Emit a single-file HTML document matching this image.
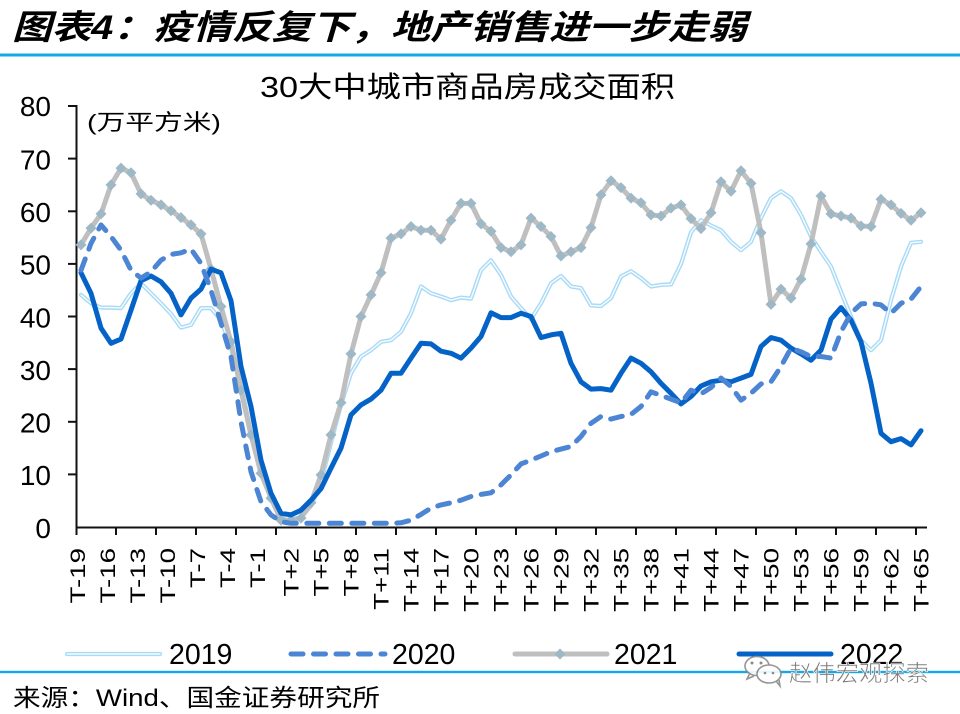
<!DOCTYPE html>
<html><head><meta charset="utf-8"><style>
html,body{margin:0;padding:0;background:#fff;}
svg{display:block;}
text{font-family:"Liberation Sans","Noto Sans CJK SC",sans-serif;}
</style></head><body>
<svg width="960" height="714" viewBox="0 0 960 714" xmlns="http://www.w3.org/2000/svg">
<defs><path id="dm" d="M0,-5.5 L5.5,0 L0,5.5 L-5.5,0Z" fill="#9fb8c5"/></defs>
<rect width="960" height="714" fill="#fff"/>
<!-- Title -->
<text x="12" y="39" font-size="34" font-weight="bold" font-style="italic" textLength="735" lengthAdjust="spacingAndGlyphs" fill="#000">图表4：疫情反复下，地产销售进一步走弱</text>
<rect x="0" y="53.5" width="960" height="3" fill="#13a8e6"/>
<!-- chart title -->
<text x="260" y="97" font-size="29" textLength="415" lengthAdjust="spacingAndGlyphs" fill="#000">30大中城市商品房成交面积</text>
<text x="87" y="130" font-size="22" textLength="134" lengthAdjust="spacingAndGlyphs" fill="#000">(万平方米)</text>
<!-- y axis labels -->
<g font-size="28" text-anchor="end" fill="#000">
<text x="51" y="116">80</text>
<text x="51" y="169.4">70</text>
<text x="51" y="222">60</text>
<text x="51" y="274.7">50</text>
<text x="51" y="327.3">40</text>
<text x="51" y="379.9">30</text>
<text x="51" y="432.5">20</text>
<text x="51" y="485.2">10</text>
<text x="51" y="537.8">0</text>
</g>
<!-- axes -->
<g stroke="#111" stroke-width="2">
<line x1="76.5" y1="105" x2="76.5" y2="528"/>
<line x1="75.5" y1="527.5" x2="927" y2="527.5"/>
<line x1="68" y1="106" x2="76" y2="106"/>
<line x1="68" y1="158.6" x2="76" y2="158.6"/>
<line x1="68" y1="211.3" x2="76" y2="211.3"/>
<line x1="68" y1="263.9" x2="76" y2="263.9"/>
<line x1="68" y1="316.5" x2="76" y2="316.5"/>
<line x1="68" y1="369.1" x2="76" y2="369.1"/>
<line x1="68" y1="421.8" x2="76" y2="421.8"/>
<line x1="68" y1="474.4" x2="76" y2="474.4"/>
<line x1="116" y1="527" x2="116" y2="535"/>
<line x1="156" y1="527" x2="156" y2="535"/>
<line x1="196" y1="527" x2="196" y2="535"/>
<line x1="236" y1="527" x2="236" y2="535"/>
<line x1="276" y1="527" x2="276" y2="535"/>
<line x1="316" y1="527" x2="316" y2="535"/>
<line x1="356" y1="527" x2="356" y2="535"/>
<line x1="396" y1="527" x2="396" y2="535"/>
<line x1="436" y1="527" x2="436" y2="535"/>
<line x1="476" y1="527" x2="476" y2="535"/>
<line x1="516" y1="527" x2="516" y2="535"/>
<line x1="556" y1="527" x2="556" y2="535"/>
<line x1="596" y1="527" x2="596" y2="535"/>
<line x1="636" y1="527" x2="636" y2="535"/>
<line x1="676" y1="527" x2="676" y2="535"/>
<line x1="716" y1="527" x2="716" y2="535"/>
<line x1="756" y1="527" x2="756" y2="535"/>
<line x1="796" y1="527" x2="796" y2="535"/>
<line x1="836" y1="527" x2="836" y2="535"/>
<line x1="876" y1="527" x2="876" y2="535"/>
<line x1="916" y1="527" x2="916" y2="535"/>
<line x1="76.5" y1="527" x2="76.5" y2="535"/>
</g>
<!-- x labels -->
<g font-size="21" text-anchor="end" fill="#000">
<text transform="translate(85,548) rotate(-90) scale(1.32,1)">T-19</text>
<text transform="translate(115,548) rotate(-90) scale(1.32,1)">T-16</text>
<text transform="translate(145,548) rotate(-90) scale(1.32,1)">T-13</text>
<text transform="translate(175,548) rotate(-90) scale(1.32,1)">T-10</text>
<text transform="translate(205,548) rotate(-90) scale(1.32,1)">T-7</text>
<text transform="translate(235,548) rotate(-90) scale(1.32,1)">T-4</text>
<text transform="translate(265,548) rotate(-90) scale(1.32,1)">T-1</text>
<text transform="translate(298.5,548) rotate(-90) scale(1.32,1)">T+2</text>
<text transform="translate(328.5,548) rotate(-90) scale(1.32,1)">T+5</text>
<text transform="translate(358.5,548) rotate(-90) scale(1.32,1)">T+8</text>
<text transform="translate(388.5,548) rotate(-90) scale(1.32,1)">T+11</text>
<text transform="translate(418.5,548) rotate(-90) scale(1.32,1)">T+14</text>
<text transform="translate(448.5,548) rotate(-90) scale(1.32,1)">T+17</text>
<text transform="translate(478.5,548) rotate(-90) scale(1.32,1)">T+20</text>
<text transform="translate(508.5,548) rotate(-90) scale(1.32,1)">T+23</text>
<text transform="translate(538.5,548) rotate(-90) scale(1.32,1)">T+26</text>
<text transform="translate(568.5,548) rotate(-90) scale(1.32,1)">T+29</text>
<text transform="translate(598.5,548) rotate(-90) scale(1.32,1)">T+32</text>
<text transform="translate(628.5,548) rotate(-90) scale(1.32,1)">T+35</text>
<text transform="translate(658.5,548) rotate(-90) scale(1.32,1)">T+38</text>
<text transform="translate(688.5,548) rotate(-90) scale(1.32,1)">T+41</text>
<text transform="translate(718.5,548) rotate(-90) scale(1.32,1)">T+44</text>
<text transform="translate(748.5,548) rotate(-90) scale(1.32,1)">T+47</text>
<text transform="translate(778.5,548) rotate(-90) scale(1.32,1)">T+50</text>
<text transform="translate(808.5,548) rotate(-90) scale(1.32,1)">T+53</text>
<text transform="translate(838.5,548) rotate(-90) scale(1.32,1)">T+56</text>
<text transform="translate(868.5,548) rotate(-90) scale(1.32,1)">T+59</text>
<text transform="translate(898.5,548) rotate(-90) scale(1.32,1)">T+62</text>
<text transform="translate(928.5,548) rotate(-90) scale(1.32,1)">T+65</text>
</g>
<!-- 2019 -->
<g fill="none" stroke-linejoin="round" stroke-linecap="round">
<polyline id="s19" stroke="#a9daf5" stroke-width="4.2" points="81,294.9 91,303.3 101,307.6 111,307.6 121,308.1 131,293.3 141,283.3 151,293.3 161,303.3 171,313.9 181,327.6 191,324.9 201,308.1 211,308.1 221,320.2 231,348.1 241,384.9 251,432.3 261,469.1 271,495.4 281,513.8 291,519.1 301,517.5 311,506 321,482.3 331,442.8 341,404.9 351,373.3 361,356.5 371,350.2 381,341.8 391,340.2 401,331.8 411,313.3 421,286.5 431,293.3 441,296.5 451,300.2 461,297.6 471,298.6 481,270.2 491,260.2 501,274.9 511,296.5 521,308.1 531,319.1 541,303.3 551,283.3 561,276 571,286.5 581,288.1 591,305.4 601,306 611,298.1 621,276.5 631,271.2 641,278.1 651,286.5 661,284.9 671,284.4 681,263.9 691,232.3 701,220.2 711,225.5 721,230.2 731,241.8 741,250.2 751,241.8 761,218.1 771,198.1 781,191.3 791,198.1 801,214.9 811,236.5 821,251.8 831,266.5 841,291.8 851,316.5 861,340.2 871,350.2 881,340.2 891,300.2 901,266.5 911,242.8 921,241.8"/>
<polyline stroke="#f6fcff" stroke-width="1.4" points="81,294.9 91,303.3 101,307.6 111,307.6 121,308.1 131,293.3 141,283.3 151,293.3 161,303.3 171,313.9 181,327.6 191,324.9 201,308.1 211,308.1 221,320.2 231,348.1 241,384.9 251,432.3 261,469.1 271,495.4 281,513.8 291,519.1 301,517.5 311,506 321,482.3 331,442.8 341,404.9 351,373.3 361,356.5 371,350.2 381,341.8 391,340.2 401,331.8 411,313.3 421,286.5 431,293.3 441,296.5 451,300.2 461,297.6 471,298.6 481,270.2 491,260.2 501,274.9 511,296.5 521,308.1 531,319.1 541,303.3 551,283.3 561,276 571,286.5 581,288.1 591,305.4 601,306 611,298.1 621,276.5 631,271.2 641,278.1 651,286.5 661,284.9 671,284.4 681,263.9 691,232.3 701,220.2 711,225.5 721,230.2 731,241.8 741,250.2 751,241.8 761,218.1 771,198.1 781,191.3 791,198.1 801,214.9 811,236.5 821,251.8 831,266.5 841,291.8 851,316.5 861,340.2 871,350.2 881,340.2 891,300.2 901,266.5 911,242.8 921,241.8"/>
<!-- 2021 -->
<polyline stroke="#bfbfbf" stroke-width="5" points="81,244.9 91,228.1 101,213.9 111,184.9 121,168.1 131,172.8 141,193.9 151,200.2 161,204.9 171,210.7 181,217.6 191,224.9 201,233.9 211,269.1 221,306.5 231,341.8 241,390.2 251,434.9 261,473.3 271,498.1 281,520.2 291,520.2 301,518.1 311,502.8 321,474.9 331,434.9 341,402.8 351,353.9 361,316.5 371,294.9 381,272.8 391,238.1 401,233.9 411,226.5 421,230.2 431,230.2 441,239.1 451,220.2 461,203.4 471,203.4 481,223.9 491,231.3 501,247.6 511,251.8 521,244.9 531,218.1 541,226.5 551,236.5 561,256 571,251.8 581,247.6 591,227.6 601,194.9 611,180.7 621,187.6 631,198.1 641,202.8 651,214.9 661,216 671,208.1 681,204.9 691,218.6 701,228.6 711,212.8 721,181.8 731,191.3 741,170.7 751,183.4 761,232.8 771,304.4 781,289.1 791,298.1 801,279.1 811,243.9 821,196 831,213.9 841,216 851,218.1 861,226 871,226.5 881,199.2 891,204.9 901,213.4 911,220.2 921,212.8"/>
</g>
<g>
<use href="#dm" x="81" y="244.9"/><use href="#dm" x="91" y="228.1"/><use href="#dm" x="101" y="213.9"/><use href="#dm" x="111" y="184.9"/><use href="#dm" x="121" y="168.1"/><use href="#dm" x="131" y="172.8"/><use href="#dm" x="141" y="193.9"/><use href="#dm" x="151" y="200.2"/><use href="#dm" x="161" y="204.9"/><use href="#dm" x="171" y="210.7"/><use href="#dm" x="181" y="217.6"/><use href="#dm" x="191" y="224.9"/><use href="#dm" x="201" y="233.9"/><use href="#dm" x="211" y="269.1"/><use href="#dm" x="221" y="306.5"/><use href="#dm" x="231" y="341.8"/><use href="#dm" x="241" y="390.2"/><use href="#dm" x="251" y="434.9"/><use href="#dm" x="261" y="473.3"/><use href="#dm" x="271" y="498.1"/><use href="#dm" x="281" y="520.2"/><use href="#dm" x="291" y="520.2"/><use href="#dm" x="301" y="518.1"/><use href="#dm" x="311" y="502.8"/><use href="#dm" x="321" y="474.9"/><use href="#dm" x="331" y="434.9"/><use href="#dm" x="341" y="402.8"/><use href="#dm" x="351" y="353.9"/><use href="#dm" x="361" y="316.5"/><use href="#dm" x="371" y="294.9"/><use href="#dm" x="381" y="272.8"/><use href="#dm" x="391" y="238.1"/><use href="#dm" x="401" y="233.9"/><use href="#dm" x="411" y="226.5"/><use href="#dm" x="421" y="230.2"/><use href="#dm" x="431" y="230.2"/><use href="#dm" x="441" y="239.1"/><use href="#dm" x="451" y="220.2"/><use href="#dm" x="461" y="203.4"/><use href="#dm" x="471" y="203.4"/><use href="#dm" x="481" y="223.9"/><use href="#dm" x="491" y="231.3"/><use href="#dm" x="501" y="247.6"/><use href="#dm" x="511" y="251.8"/><use href="#dm" x="521" y="244.9"/><use href="#dm" x="531" y="218.1"/><use href="#dm" x="541" y="226.5"/><use href="#dm" x="551" y="236.5"/><use href="#dm" x="561" y="256"/><use href="#dm" x="571" y="251.8"/><use href="#dm" x="581" y="247.6"/><use href="#dm" x="591" y="227.6"/><use href="#dm" x="601" y="194.9"/><use href="#dm" x="611" y="180.7"/><use href="#dm" x="621" y="187.6"/><use href="#dm" x="631" y="198.1"/><use href="#dm" x="641" y="202.8"/><use href="#dm" x="651" y="214.9"/><use href="#dm" x="661" y="216"/><use href="#dm" x="671" y="208.1"/><use href="#dm" x="681" y="204.9"/><use href="#dm" x="691" y="218.6"/><use href="#dm" x="701" y="228.6"/><use href="#dm" x="711" y="212.8"/><use href="#dm" x="721" y="181.8"/><use href="#dm" x="731" y="191.3"/><use href="#dm" x="741" y="170.7"/><use href="#dm" x="751" y="183.4"/><use href="#dm" x="761" y="232.8"/><use href="#dm" x="771" y="304.4"/><use href="#dm" x="781" y="289.1"/><use href="#dm" x="791" y="298.1"/><use href="#dm" x="801" y="279.1"/><use href="#dm" x="811" y="243.9"/><use href="#dm" x="821" y="196"/><use href="#dm" x="831" y="213.9"/><use href="#dm" x="841" y="216"/><use href="#dm" x="851" y="218.1"/><use href="#dm" x="861" y="226"/><use href="#dm" x="871" y="226.5"/><use href="#dm" x="881" y="199.2"/><use href="#dm" x="891" y="204.9"/><use href="#dm" x="901" y="213.4"/><use href="#dm" x="911" y="220.2"/><use href="#dm" x="921" y="212.8"/>
</g>
<g fill="none" stroke-linejoin="round" stroke-linecap="round">
<!-- 2022 -->
<polyline stroke="#0563c8" stroke-width="5" points="81,272.8 91,293.3 101,328.1 111,343.3 121,339.1 131,310.2 141,280.7 151,276 161,281.8 171,293.3 181,314.9 191,298.1 201,289.1 211,269.1 221,272.8 231,300.7 241,366.5 251,406.5 261,460.2 271,493.3 281,513.3 291,514.9 301,510.2 311,500.2 321,488.6 331,468.1 341,448.1 351,414.9 361,404.9 371,399.1 381,390.2 391,373.3 401,373.3 411,358.1 421,343.3 431,343.9 441,351.2 451,353.3 461,358.1 471,348.1 481,336.5 491,312.8 501,317.6 511,317.6 521,313.3 531,316.5 541,337.6 551,334.9 561,333.3 571,363.3 581,381.8 591,389.1 601,388.6 611,390.2 621,373.3 631,358.1 641,363.3 651,371.8 661,383.3 671,393.3 681,403.9 691,396.5 701,386 711,381.8 721,380.2 731,381.8 741,378.1 751,374.4 761,346.5 771,337.6 781,340.2 791,348.1 801,353.9 811,360.2 821,350.2 831,319.1 841,307.6 851,320.2 861,341.8 871,383.3 881,433.3 891,441.7 901,438.6 911,444.9 921,430.7"/>
<!-- 2020 -->
<polyline stroke="#4c85d3" stroke-width="5" stroke-dasharray="12 10.5" points="81,270.2 91,243.4 101,224.9 111,236.5 121,250.2 131,270.2 141,278.1 151,271.8 161,260.2 171,254.4 181,252.8 191,249.1 201,263.4 211,290.2 221,323.3 231,356.5 241,421.8 251,471.7 261,501.7 271,514.9 281,521.7 291,523.3 301,523.3 311,523.3 321,523.3 331,523.3 341,523.3 351,523.3 361,523.3 371,523.3 381,523.3 391,523.3 401,522.8 411,520.2 421,514.4 431,508.1 441,504.9 451,502.8 461,500.2 471,496.5 481,494.4 491,492.8 501,484.9 511,474.9 521,463.9 531,460.2 541,456 551,451.7 561,449.1 571,446.5 581,436.5 591,423.3 601,416.5 611,419.1 621,416.5 631,414.4 641,406.5 651,391.8 661,395.4 671,399.1 681,402.8 691,390.2 701,393.9 711,387.5 721,378.1 731,386.5 741,400.2 751,393.3 761,383.9 771,381.8 781,366.5 791,348.1 801,351.8 811,356.5 821,356.5 831,358.1 841,331.8 851,313.3 861,303.9 871,303.3 881,304.9 891,313.3 901,303.3 911,299.1 921,286.5"/>
</g>
<!-- legend -->
<g stroke-linecap="round" fill="none">
<line x1="67" y1="654" x2="160" y2="654" stroke="#a9daf5" stroke-width="4.2"/>
<line x1="67" y1="654" x2="160" y2="654" stroke="#f6fcff" stroke-width="1.4"/>
<line x1="291" y1="654" x2="385" y2="654" stroke="#4c85d3" stroke-width="5" stroke-dasharray="12 10.5"/>
<line x1="515" y1="654" x2="607" y2="654" stroke="#bfbfbf" stroke-width="5"/>
<line x1="739" y1="654" x2="831" y2="654" stroke="#0563c8" stroke-width="5"/>
</g>
<use href="#dm" x="560" y="654"/>
<g font-size="28.5" fill="#000">
<text x="169" y="664">2019</text>
<text x="392" y="664">2020</text>
<text x="614" y="664">2021</text>
<text x="840" y="664">2022</text>
</g>
<rect x="0" y="670.8" width="960" height="2.4" fill="#13a8e6"/>
<!-- watermark -->
<g fill="none" stroke="#8a8a8a" stroke-width="1.6" opacity="0.9">
<ellipse cx="757" cy="666" rx="12" ry="9.5" fill="#fff"/>
<ellipse cx="769" cy="674" rx="12" ry="9" fill="#fff"/>
<path d="M750,673 l-3,6 l7,-3"/>
<path d="M776,681 l4,5 l-1,-6"/>
</g>
<g fill="#8a8a8a">
<circle cx="752" cy="663" r="1.5"/><circle cx="761" cy="663" r="1.5"/>
<circle cx="765" cy="673" r="1.3"/><circle cx="773" cy="673" r="1.3"/>
</g>
<text x="789" y="681" font-size="23" fill="#7a7a7a" stroke="#fff" stroke-width="0.6" textLength="140" lengthAdjust="spacingAndGlyphs">赵伟宏观探索</text>
<!-- footer -->
<text x="13" y="706" font-size="24" fill="#000" textLength="367" lengthAdjust="spacingAndGlyphs">来源：Wind、国金证券研究所</text>
</svg>
</body></html>
